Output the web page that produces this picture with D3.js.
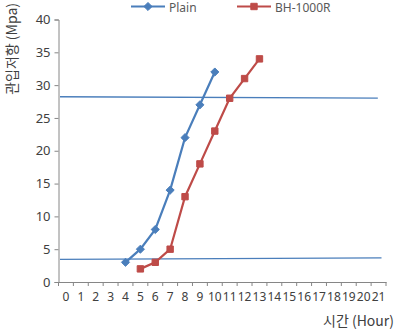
<!DOCTYPE html>
<html><head><meta charset="utf-8">
<script src="https://cdn.jsdelivr.net/npm/d3@7"></script>
<style>body{margin:0;background:#fff;}svg{display:block;font-family:"Noto Sans CJK KR","Noto Sans",sans-serif;}</style>
</head><body>
<script>
const categories = d3.range(0, 22).map(String);
const plainX = [4, 5, 6, 7, 8, 9, 10];
const plainY = [3, 5, 8, 14, 22, 27, 32];
const bhX = [5, 6, 7, 8, 9, 10, 11, 12, 13];
const bhY = [2, 3, 5, 13, 18, 23, 28, 31, 34];
const yTicks = [0, 5, 10, 15, 20, 25, 30, 35, 40];
const upperLine = [[0.1, 28.23], [21.45, 28.03]];
const lowerLine = [[0.1, 3.44], [21.7, 3.68]];
const seriesNames = ["Plain", "BH-1000R"];

const W = 394, H = 333;
const m = {left: 58.5, right: 8, top: 19.5, bottom: 51};
const svg = d3.select("body").append("svg").attr("width", W).attr("height", H);

const x = d3.scaleBand().domain(categories).range([m.left, W - m.right]).padding(0);
const xl = d3.scaleLinear().domain([0, categories.length]).range([m.left, W - m.right]);
const y = d3.scaleLinear().domain([0, 40]).range([H - m.bottom, m.top]);

const axisColor = "#868686", textColor = "#404040";
const blue = "#4a7ebb", red = "#be4b48";

// y axis
const ya = svg.append("g").attr("transform", `translate(${m.left},0)`)
  .call(d3.axisLeft(y).tickValues(yTicks).tickSize(4).tickPadding(4));
ya.select(".domain").attr("stroke", axisColor);
ya.selectAll(".tick line").attr("stroke", axisColor);
ya.selectAll("text").attr("fill", textColor).style("font-size", "13px").style("font-family", "'Noto Sans',sans-serif");

// x axis
const xa = svg.append("g").attr("transform", `translate(0,${y(0)})`)
  .call(d3.axisBottom(x).tickSize(0).tickPadding(10));
xa.select(".domain").attr("stroke", axisColor);
xa.selectAll("text").attr("fill", textColor).style("font-size", "12px").style("font-family", "'Noto Sans',sans-serif");
xa.selectAll(".bound").data(d3.range(0, categories.length + 1)).enter().append("line")
  .attr("x1", d => xl(d)).attr("x2", d => xl(d)).attr("y1", 0).attr("y2", 4).attr("stroke", axisColor);

// reference lines
const ln = d3.line().x(d => xl(d[0])).y(d => y(d[1]));
[upperLine, lowerLine].forEach(dat => {
  svg.append("path").datum(dat).attr("d", ln).attr("fill", "none").attr("stroke", blue).attr("stroke-width", 1.3);
});

const cx = v => x(String(v)) + x.bandwidth() / 2;
const sl = d3.line().x(d => cx(d[0])).y(d => y(d[1]));
const plain = plainX.map((v, i) => [v, plainY[i]]);
const bh = bhX.map((v, i) => [v, bhY[i]]);

svg.append("path").datum(plain).attr("d", sl).attr("fill", "none").attr("stroke", blue).attr("stroke-width", 2.2);
svg.append("path").datum(bh).attr("d", sl).attr("fill", "none").attr("stroke", red).attr("stroke-width", 2.2);

const diamond = d3.symbol().type(d3.symbolDiamond2).size(42);
const square = d3.symbol().type(d3.symbolSquare2).size(52);
svg.selectAll(".pm").data(plain).enter().append("path")
  .attr("d", diamond).attr("transform", d => `translate(${cx(d[0])},${y(d[1])})`).attr("fill", blue).attr("stroke", blue);
svg.selectAll(".bm").data(bh).enter().append("path")
  .attr("d", square).attr("transform", d => `translate(${cx(d[0])},${y(d[1])})`).attr("fill", red).attr("stroke", red);

// legend
const lg = [{name: seriesNames[0], c: blue, s: diamond, x0: 131}, {name: seriesNames[1], c: red, s: square, x0: 237}];
lg.forEach(l => {
  const g = svg.append("g");
  g.append("line").attr("x1", l.x0).attr("x2", l.x0 + 34).attr("y1", 6.5).attr("y2", 6.5).attr("stroke", l.c).attr("stroke-width", 2.2);
  g.append("path").attr("d", l.s).attr("transform", `translate(${l.x0 + 17},6.5)`).attr("fill", l.c).attr("stroke", l.c);
  g.append("text").attr("x", l.x0 + 38).attr("y", 11).attr("dy", "0.5px").text(l.name).attr("fill", "#595959")
    .style("font-size", "12px").style("font-family", "'Noto Sans',sans-serif");
});

// axis titles
svg.append("text").attr("x", 394).attr("y", 326).attr("text-anchor", "end").text("시간 (Hour)")
  .attr("fill", textColor).style("font-size", "14px");
svg.append("text").attr("transform", "translate(17,3) rotate(-90)").attr("text-anchor", "end").text("관입저항 (Mpa)")
  .attr("fill", textColor).style("font-size", "14px");
</script>
</body></html>
